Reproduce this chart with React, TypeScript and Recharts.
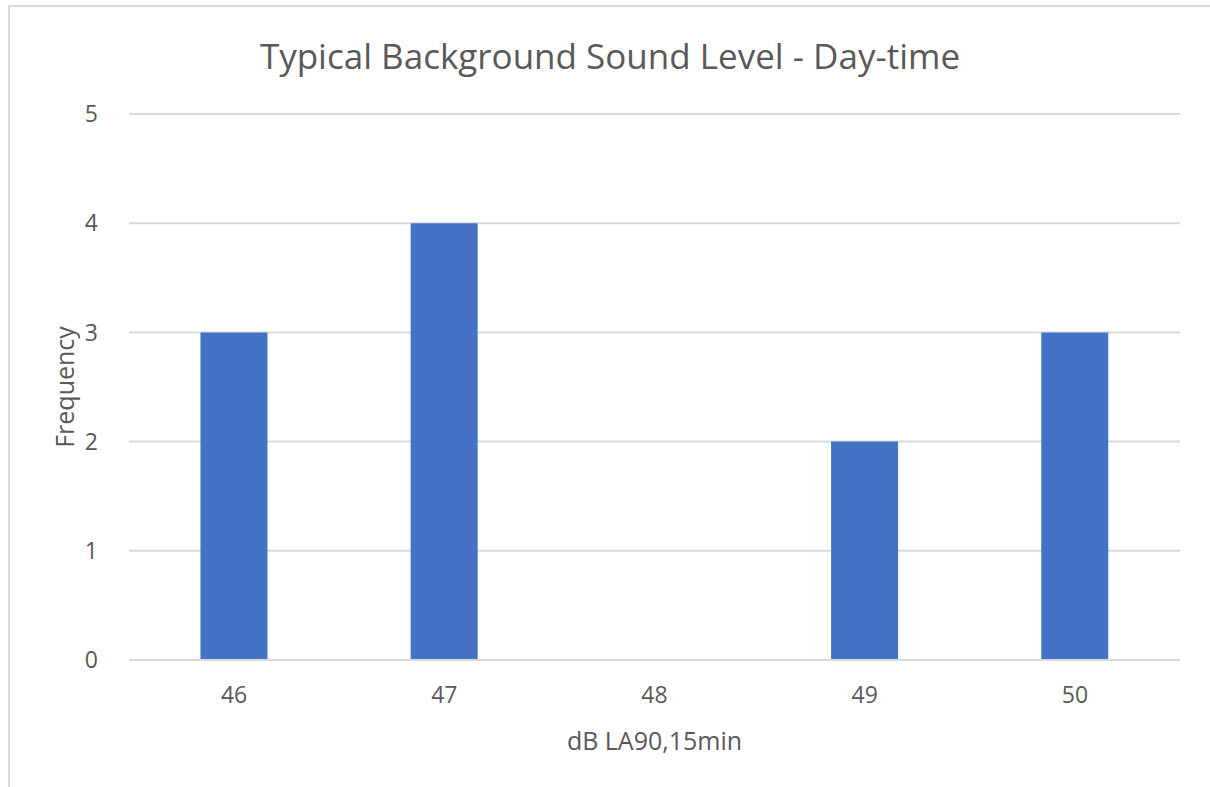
import React from 'react';
import { BarChart, Bar, XAxis, YAxis, CartesianGrid } from 'recharts';

const levels = ['46', '47', '48', '49', '50'];
const frequency = [3, 4, 0, 2, 3];
const yTicks = [0, 1, 2, 3, 4, 5];

const data = levels.map((level, i) => ({ level, frequency: frequency[i] }));

const FONT = '"Open Sans", sans-serif';
const GREY = '#595959';

export default function App() {
  return (
    <div style={{ position: 'absolute', left: 0, top: 0, width: 1210, height: 787, background: '#fff', fontFamily: FONT }}>
      <div
        style={{
          position: 'absolute',
          left: 8,
          top: 5,
          width: 1202,
          height: 782,
          borderTop: '2px solid #d9d9d9',
          borderLeft: '2px solid #d9d9d9',
        }}
      />
      <div
        style={{
          position: 'absolute',
          left: 0,
          top: 33,
          width: 1220,
          textAlign: 'center',
          fontSize: 35,
          color: GREY,
          lineHeight: '46px',
        }}
      >
        Typical Background Sound Level - Day-time
      </div>
      <div style={{ position: 'absolute', left: 0, top: 0 }}>
        <BarChart
          width={1210}
          height={787}
          data={data}
          margin={{ top: 114, right: 30, bottom: 27, left: 29 }}
          barCategoryGap="34%"
        >
          <CartesianGrid vertical={false} stroke="#d9d9d9" strokeWidth={2} />
          <XAxis
            dataKey="level"
            height={100}
            axisLine={{ stroke: '#d9d9d9', strokeWidth: 2 }}
            tickLine={false}
            tick={{ fill: GREY, fontSize: 23, fontFamily: FONT }}
            tickMargin={21}
            label={{ value: 'dB LA90,15min', position: 'insideBottom', offset: 10, fill: GREY, fontSize: 25, fontFamily: FONT }}
          />
          <YAxis
            width={100}
            domain={[0, 5]}
            ticks={yTicks}
            axisLine={false}
            tickLine={false}
            tick={{ fill: GREY, fontSize: 23, fontFamily: FONT }}
            tickMargin={25}
            label={{ value: 'Frequency', angle: -90, position: 'insideLeft', offset: 36, textAnchor: 'middle', fill: GREY, fontSize: 25, fontFamily: FONT }}
          />
          <Bar dataKey="frequency" fill="#4472C4" isAnimationActive={false} />
        </BarChart>
      </div>
    </div>
  );
}
